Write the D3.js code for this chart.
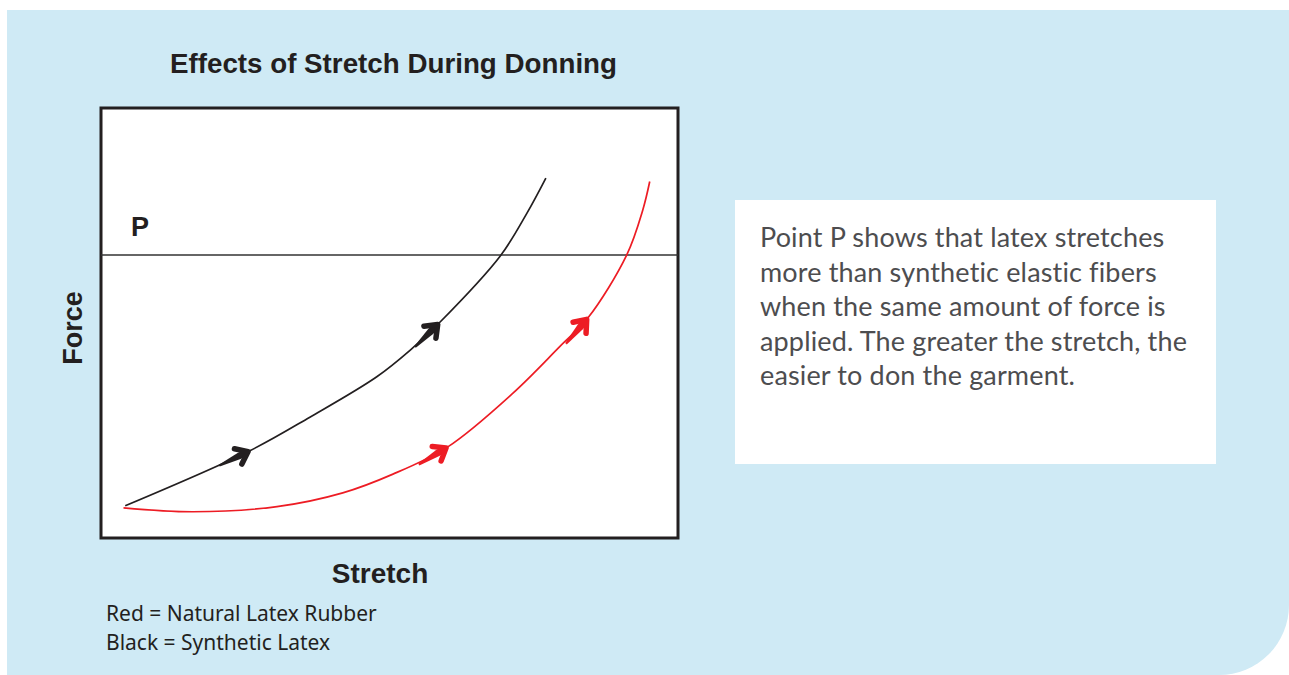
<!DOCTYPE html>
<html>
<head>
<meta charset="utf-8">
<script src="https://cdn.jsdelivr.net/npm/d3@7"></script>
<style>
  body { margin: 0; background: #fff; }
  svg { display: block; }
</style>
</head>
<body>
<svg id="chart" width="1289" height="675"></svg>
<script>
// values (stretch, force) in arbitrary units 0..100
var blackStretch = [4.2, 25.8, 36.2, 47.8, 53.6, 58.6, 69.2, 73.8, 77.1];
var blackForce = [7.5, 20.3, 28.1, 37.5, 43.7, 50.0, 65.6, 75.5, 83.7];
var redStretch = [3.9, 15.9, 30.5, 41.9, 50.5, 60.1, 71.4, 79.5, 84.4, 91.1, 93.9, 95.1];
var redForce = [7.0, 6.1, 7.3, 10.5, 14.8, 21.2, 33.7, 44.5, 51.2, 65.8, 76.3, 82.9];
var blackArrows = [25.8, 58.6];
var redArrows = [60.1, 84.4];
var pointP = 65.8;
var legendLines = ['Red = Natural Latex Rubber', 'Black = Synthetic Latex'];
var noteLines = [
    'Point P shows that latex stretches',
    'more than synthetic elastic fibers',
    'when the same amount of force is',
    'applied. The greater the stretch, the',
    'easier to don the garment.'
];

var svg = d3.select('#chart');
var panelColor = '#cfeaf5';
var ink = '#231f20';
var red = '#ed1c24';

// background panel with rounded bottom-right corner
var r = 70;
svg.append('path')
    .attr('d', 'M7,10 L1289,10 L1289,' + (675 - r) +
        ' A' + r + ',' + r + ' 0 0 1 ' + (1289 - r) + ',675 L7,675 Z')
    .attr('fill', panelColor);

var box = { left: 101, top: 108, right: 678, bottom: 538 };
var x = d3.scaleLinear().domain([0, 100]).range([box.left, box.right]);
var y = d3.scaleLinear().domain([0, 100]).range([box.bottom, box.top]);

svg.append('rect')
    .attr('x', box.left)
    .attr('y', box.top)
    .attr('width', box.right - box.left)
    .attr('height', box.bottom - box.top)
    .attr('fill', '#fff')
    .attr('stroke', ink)
    .attr('stroke-width', 3);

svg.append('text')
    .attr('x', 170)
    .attr('y', 73)
    .attr('textLength', 447)
    .attr('lengthAdjust', 'spacingAndGlyphs')
    .style('font-family', 'Liberation Sans, Arial, sans-serif')
    .style('font-weight', 'bold')
    .style('font-size', '27px')
    .attr('fill', ink)
    .text('Effects of Stretch During Donning');

// point P line
svg.append('line')
    .attr('x1', box.left)
    .attr('x2', box.right)
    .attr('y1', y(pointP))
    .attr('y2', y(pointP))
    .attr('stroke', '#333')
    .attr('stroke-width', 1.5);

svg.append('text')
    .attr('x', 131)
    .attr('y', 236)
    .style('font-family', 'Liberation Sans, Arial, sans-serif')
    .style('font-weight', 'bold')
    .style('font-size', '27px')
    .attr('fill', ink)
    .text('P');

var line = d3.line()
    .x(function (d) { return x(d[0]); })
    .y(function (d) { return y(d[1]); })
    .curve(d3.curveCatmullRom.alpha(0.5));

function drawCurve(xs, ys, color, arrows, width) {
    var pts = xs.map(function (v, i) { return [v, ys[i]]; });
    var path = svg.append('path')
        .attr('d', line(pts))
        .attr('fill', 'none')
        .attr('stroke', color)
        .attr('stroke-width', width);
    var node = path.node();
    var total = node.getTotalLength();
    arrows.forEach(function (ax) {
        var tx = x(ax);
        var lo = 0, hi = total;
        for (var k = 0; k < 40; k++) {
            var mid = (lo + hi) / 2;
            if (node.getPointAtLength(mid).x < tx) lo = mid; else hi = mid;
        }
        var tip = node.getPointAtLength(lo);
        var back = node.getPointAtLength(Math.max(0, lo - 10));
        var angle = Math.atan2(tip.y - back.y, tip.x - back.x) * 180 / Math.PI;
        var g = svg.append('g')
            .attr('transform', 'translate(' + tip.x + ',' + tip.y + ') rotate(' + angle + ')');
        // tapered shaft
        g.append('path')
            .attr('d', 'M-34,-1 L-12,-3.4 L-5,-3.2 L-5,3.2 L-12,3.4 L-34,1 Z')
            .attr('fill', color);
        // chevron head
        g.append('path')
            .attr('d', 'M-13,-8.5 L-2,0 L-13,8.5')
            .attr('fill', 'none')
            .attr('stroke', color)
            .attr('stroke-width', 5.5)
            .attr('stroke-linecap', 'round')
            .attr('stroke-linejoin', 'round');
    });
}

drawCurve(redStretch, redForce, red, redArrows, 1.7);
drawCurve(blackStretch, blackForce, ink, blackArrows, 1.7);

// axis titles
svg.append('text')
    .attr('transform', 'translate(82,328) rotate(-90)')
    .attr('text-anchor', 'middle')
    .style('font-family', 'Liberation Sans, Arial, sans-serif')
    .style('font-weight', 'bold')
    .style('font-size', '27px')
    .attr('fill', ink)
    .text('Force');

svg.append('text')
    .attr('x', 380)
    .attr('y', 583)
    .attr('text-anchor', 'middle')
    .style('font-family', 'Liberation Sans, Arial, sans-serif')
    .style('font-weight', 'bold')
    .style('font-size', '28px')
    .attr('fill', ink)
    .text('Stretch');

// legend
svg.append('g')
    .selectAll('text')
    .data(legendLines)
    .enter()
    .append('text')
    .attr('x', 106)
    .attr('y', function (d, i) { return 621 + i * 29; })
    .style('font-family', 'Noto Sans, sans-serif')
    .style('font-size', '21px')
    .attr('fill', ink)
    .text(function (d) { return d; });

// note box
svg.append('rect')
    .attr('x', 735)
    .attr('y', 200)
    .attr('width', 481)
    .attr('height', 264)
    .attr('fill', '#fff');

svg.append('g')
    .selectAll('text')
    .data(noteLines)
    .enter()
    .append('text')
    .attr('x', 760)
    .attr('y', function (d, i) { return 247 + i * 34.6; })
    .style('font-family', 'Lato, sans-serif')
    .style('font-size', '27px')
    .style('letter-spacing', '0.15px')
    .attr('fill', '#4d4d4f')
    .text(function (d) { return d; });
</script>
</body>
</html>
